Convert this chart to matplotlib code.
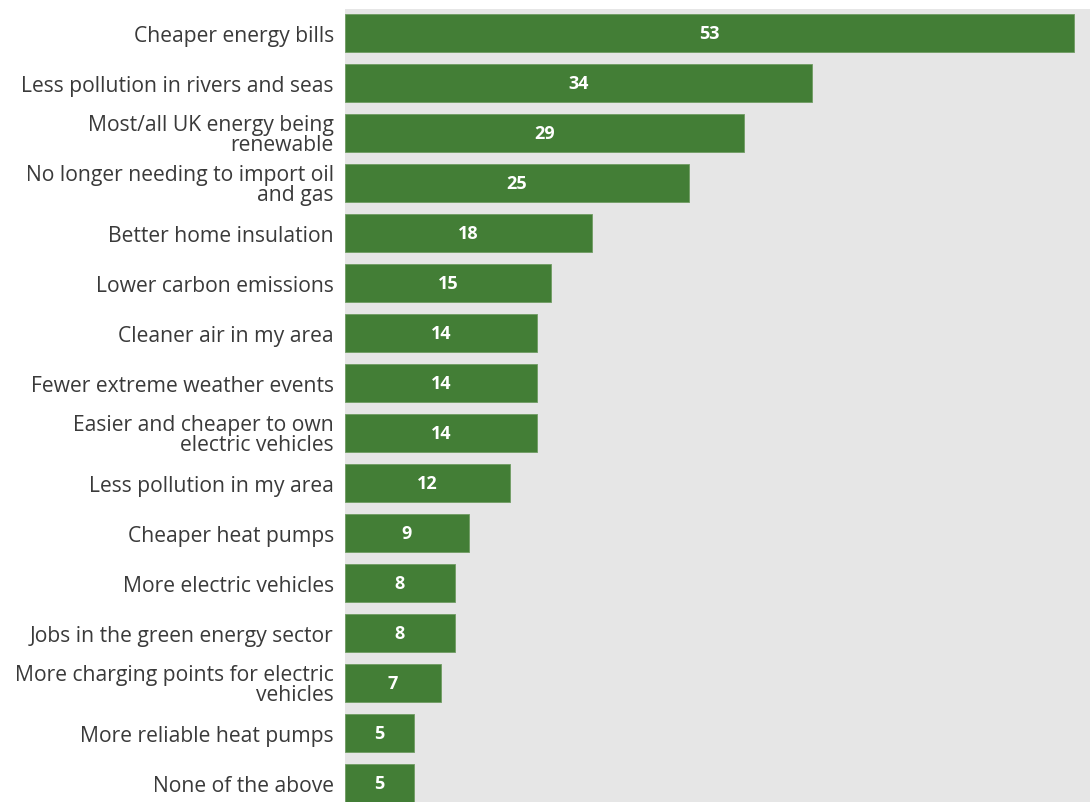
import matplotlib
matplotlib.use("Agg")
import matplotlib.pyplot as plt

categories = [
    "Cheaper energy bills",
    "Less pollution in rivers and seas",
    "Most/all UK energy being\nrenewable",
    "No longer needing to import oil\nand gas",
    "Better home insulation",
    "Lower carbon emissions",
    "Cleaner air in my area",
    "Fewer extreme weather events",
    "Easier and cheaper to own\nelectric vehicles",
    "Less pollution in my area",
    "Cheaper heat pumps",
    "More electric vehicles",
    "Jobs in the green energy sector",
    "More charging points for electric\nvehicles",
    "More reliable heat pumps",
    "None of the above",
]
values = [53, 34, 29, 25, 18, 15, 14, 14, 14, 12, 9, 8, 8, 7, 5, 5]

fig = plt.figure(figsize=(10.9, 8.03), dpi=100)
ax = fig.add_axes([345/1090, 0, 745/1090, 793/803])
ax.set_facecolor("#e6e6e6")
pos = list(range(len(values)))
ax.barh(pos, values, height=0.76, color="#437e36", edgecolor="#6f9c63", linewidth=0.6)
for p, v in zip(pos, values):
    ax.text(v / 2, p, str(v), ha="center", va="center", color="white",
            fontsize=13, fontweight="bold", family="Open Sans")
ax.set_xlim(0, 54.2)
ax.set_ylim(15.38, -0.48)
ax.set_yticks(pos)
ax.set_yticklabels(categories, fontsize=15.2, color="#3a3a3a", family="Open Sans",
                   linespacing=0.88)
ax.tick_params(axis="y", length=0, pad=8)
ax.set_xticks([])
for s in ax.spines.values():
    s.set_visible(False)
fig.savefig("out.png", dpi=100)
